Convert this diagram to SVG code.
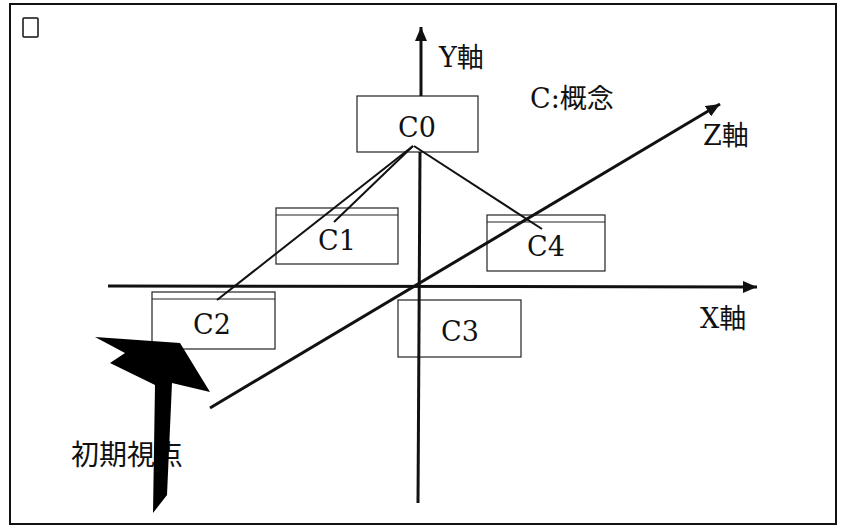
<svg xmlns="http://www.w3.org/2000/svg" width="844" height="526" viewBox="0 0 844 526">
<style>
.box{fill:none;stroke:#222;stroke-width:1.2}
.lbl{font-family:"DejaVu Serif","Liberation Serif","Noto Sans CJK JP",serif;font-size:27px;fill:#111}
.cjk{font-family:"Noto Sans CJK JP",sans-serif}
.node{font-family:"DejaVu Serif","Liberation Serif",serif;font-size:27px;fill:#111;text-anchor:middle}
.axis{stroke:#111;stroke-width:3;fill:none}
.link{stroke:#111;stroke-width:2;fill:none}
</style>
<defs>
<marker id="ah" viewBox="0 0 14 12" refX="14" refY="6" markerWidth="14" markerHeight="12" markerUnits="userSpaceOnUse" orient="auto">
<path d="M0,0 L14,6 L0,12 z" fill="#111"/>
</marker>
</defs>
<rect width="844" height="526" fill="#fff"/>
<rect x="10" y="4" width="826" height="520" fill="none" stroke="#111" stroke-width="2"/>
<rect x="23" y="18" width="15" height="19" fill="none" stroke="#111" stroke-width="1.5" rx="1"/>

<g id="labels">
<text class="lbl" x="439" y="67">Y<tspan class="cjk">軸</tspan></text>
<text class="lbl" x="530" y="108">C:<tspan class="cjk">概念</tspan></text>
<text class="lbl" x="703" y="145">Z<tspan class="cjk">軸</tspan></text>
<text class="lbl" x="700" y="328">X<tspan class="cjk">軸</tspan></text>
<text x="71" y="465" class="cjk" font-size="28" fill="#111">初期視点</text>
</g>

<g id="C0"><rect class="box" x="357" y="96" width="121" height="56"/><text class="node" x="417" y="137">C0</text></g>
<g id="C1"><rect class="box" x="276" y="208" width="122" height="56"/><line class="box" x1="276" y1="215" x2="398" y2="215"/><text class="node" x="337" y="250">C1</text></g>
<g id="C2"><rect class="box" x="152" y="292" width="123" height="57"/><line class="box" x1="152" y1="299" x2="275" y2="299"/><text class="node" x="212" y="334">C2</text></g>
<g id="C3"><rect class="box" x="398" y="300" width="123" height="57"/><text class="node" x="460" y="341">C3</text></g>
<g id="C4"><rect class="box" x="487" y="215" width="118" height="56"/><line class="box" x1="487" y1="222" x2="605" y2="222"/><text class="node" x="546" y="256">C4</text></g>

<g id="connectors">
<line class="axis" x1="421" y1="96" x2="421" y2="27" marker-end="url(#ah)"/>
<line class="axis" x1="420" y1="152" x2="418" y2="503"/>
<line class="axis" x1="108" y1="286" x2="757" y2="287" marker-end="url(#ah)"/>
<line class="axis" x1="210" y1="408" x2="720" y2="104" marker-end="url(#ah)"/>
<line class="link" x1="413" y1="146" x2="334" y2="222"/>
<line class="link" stroke-width="2.5" x1="413" y1="146" x2="217" y2="300"/>
<line class="link" stroke-width="1.6" x1="414" y1="146" x2="542" y2="229"/>
</g>

<g id="viewpoint">
<polygon points="95,337 180,343 210,392 172,383 167,495 153,513 155,385 110,363 125,353" fill="#000"/>
</g>
</svg>
